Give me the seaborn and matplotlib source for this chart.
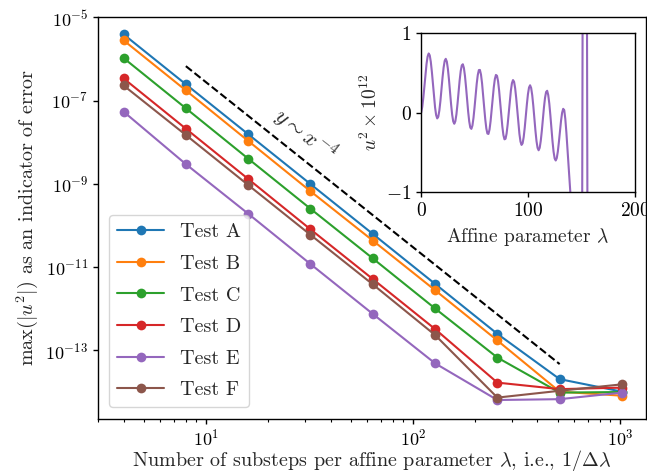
import numpy as np
import pandas as pd
import matplotlib
matplotlib.use("Agg")
import matplotlib.pyplot as plt
import seaborn as sns

# Convergence data: max |u^2| for each test versus substeps per unit affine parameter
substeps = [4, 8, 16, 32, 64, 128, 256, 512, 1024]
test_names = ["Test A", "Test B", "Test C", "Test D", "Test E", "Test F"]
err_a = [3.9e-6, 2.45e-7, 1.55e-8, 9.8e-10, 6.2e-11, 3.9e-12, 2.45e-13, 2.0e-14, 1.0e-14]
err_b = [2.8e-6, 1.75e-7, 1.07e-8, 6.6e-10, 4.3e-11, 2.75e-12, 1.7e-13, 1.0e-14, 8.0e-15]
err_c = [1.05e-6, 6.5e-8, 4.0e-9, 2.5e-10, 1.6e-11, 1.0e-12, 6.6e-14, 9.5e-15, 9.8e-15]
err_d = [3.4e-7, 2.1e-8, 1.3e-9, 8.0e-11, 5.1e-12, 3.2e-13, 1.65e-14, 1.15e-14, 1.25e-14]
err_e = [5.4e-8, 2.95e-9, 1.9e-10, 1.17e-11, 7.4e-13, 4.8e-14, 6.3e-15, 6.6e-15, 9.5e-15]
err_f = [2.3e-7, 1.48e-8, 9.3e-10, 5.9e-11, 3.8e-12, 2.3e-13, 7.2e-15, 1.05e-14, 1.5e-14]

# Reference slope y ~ x^-4
ref_x = [8, 512]
ref_y = [6.7e-7, 4.6e-14]

# u^2 (scaled by 1e12) along the affine parameter for a single run
lam = list(range(0, 159))
u2_scaled = [
    0.000, 0.072, 0.186, 0.328, 0.478, 0.609, 0.702, 0.740, 0.717, 0.636,
    0.510, 0.357, 0.201, 0.064, -0.032, -0.073, -0.052, 0.025, 0.145, 0.292,
    0.440, 0.564, 0.647, 0.673, 0.639, 0.548, 0.415, 0.260, 0.104, -0.026,
    -0.111, -0.140, -0.108, -0.021, 0.107, 0.256, 0.401, 0.519, 0.590, 0.605,
    0.559, 0.459, 0.319, 0.162, 0.010, -0.112, -0.188, -0.204, -0.162, -0.065,
    0.069, 0.219, 0.361, 0.470, 0.532, 0.534, 0.477, 0.368, 0.223, 0.064,
    -0.083, -0.198, -0.262, -0.268, -0.213, -0.107, 0.032, 0.182, 0.318, 0.420,
    0.471, 0.461, 0.393, 0.275, 0.125, -0.033, -0.175, -0.281, -0.335, -0.328,
    -0.262, -0.148, -0.005, 0.143, 0.275, 0.368, 0.407, 0.386, 0.306, 0.181,
    0.028, -0.129, -0.266, -0.363, -0.405, -0.385, -0.308, -0.188, -0.043, 0.105,
    0.231, 0.314, 0.342, 0.308, 0.218, 0.086, -0.070, -0.225, -0.356, -0.442,
    -0.472, -0.441, -0.354, -0.228, -0.079, 0.066, 0.185, 0.258, 0.273, 0.220,
    0.113, -0.034, -0.199, -0.359, -0.490, -0.574, -0.600, -0.570, -0.487, -0.367,
    -0.230, -0.101, -0.002, 0.047, 0.030, -0.080, -0.250, -0.450, -0.660, -0.860,
    -1.060, -1.300, -1.600, -2.000, -2.500, -3.100, -3.800, -4.500, -5.200, -5.800,
    -6.000, 0.000, 6.000, 7.000, 6.500, 3.000, -3.000, -6.000, -8.000,
]

colors = ["#1f77b4", "#ff7f0e", "#2ca02c", "#d62728", "#9467bd", "#8c564b"]

sns.set_style("ticks")
plt.rcParams["font.family"] = "serif"
plt.rcParams["font.serif"] = ["cmr10", "DejaVu Serif"]
plt.rcParams["mathtext.fontset"] = "cm"
plt.rcParams["axes.formatter.use_mathtext"] = True
plt.rcParams["axes.unicode_minus"] = False
plt.rcParams["axes.edgecolor"] = "black"
plt.rcParams["xtick.color"] = "black"
plt.rcParams["ytick.color"] = "black"
plt.rcParams["axes.linewidth"] = 1.0
plt.rcParams["xtick.major.width"] = 1.0
plt.rcParams["ytick.major.width"] = 1.0
plt.rcParams["xtick.minor.width"] = 0.8
plt.rcParams["ytick.minor.width"] = 0.8
plt.rcParams["xtick.major.size"] = 3.5
plt.rcParams["ytick.major.size"] = 3.5
plt.rcParams["xtick.minor.size"] = 2.0
plt.rcParams["ytick.minor.size"] = 2.0

fig = plt.figure(figsize=(6.47, 4.74), dpi=100)
ax = fig.add_axes([0.151, 0.116, 0.848, 0.8486])

series = [err_a, err_b, err_c, err_d, err_e, err_f]
frames = [pd.DataFrame({"n": substeps, "err": s, "test": name})
          for name, s in zip(test_names, series)]
df = pd.concat(frames, ignore_index=True)

for name, col in zip(test_names, colors):
    sub = df[df["test"] == name]
    sns.lineplot(data=sub, x="n", y="err", ax=ax, color=col, marker="o",
                 markersize=7, markeredgewidth=0, linewidth=1.5, label=name,
                 legend=False)

ax.plot(ref_x, ref_y, color="black", linestyle="--", linewidth=1.5)
ax.text(30, 1.5e-8, r"$y\sim x^{-4}$", rotation=-38, ha="center", va="center",
        fontsize=16)

ax.set_xscale("log")
ax.set_yscale("log")
ax.set_xlim(3.0, 1343)
ax.set_ylim(2.2e-15, 1.03e-5)
ax.tick_params(labelsize=13)
ax.tick_params(axis="x", which="both", pad=2.5)
ax.set_xlabel(r"Number of substeps per affine parameter $\lambda$, i.e., $1/\Delta\lambda$",
              fontsize=14.5, labelpad=0)
ax.set_ylabel(r"$\max(|u^2|)$ as an indicator of error", fontsize=14.5)
ax.legend(loc="lower left", fontsize=14.5, frameon=True, fancybox=True,
          edgecolor="0.8", framealpha=0.8, labelspacing=0.67,
          handlelength=2.3, borderaxespad=0.58)

ins = fig.add_axes([0.651, 0.594, 0.330, 0.337])
sns.lineplot(x=lam, y=u2_scaled, ax=ins, color="#9467bd", linewidth=1.5)
ins.set_xlim(0, 200)
ins.set_ylim(-1, 1)
ins.set_xticks([0, 100, 200])
ins.set_yticks([-1, 0, 1])
ins.tick_params(labelsize=14)
ins.set_xlabel(r"Affine parameter $\lambda$", fontsize=14)
ins.set_ylabel(r"$u^2\times 10^{12}$", fontsize=14)

fig.savefig("out.png", dpi=100)
